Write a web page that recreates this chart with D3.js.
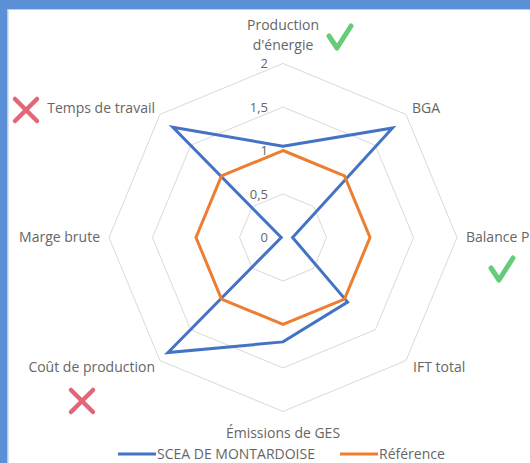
<!DOCTYPE html>
<html>
<head>
<meta charset="utf-8">
<script src="https://cdn.jsdelivr.net/npm/d3@7"></script>
<style>
  html, body { margin: 0; padding: 0; background: #fff; overflow: hidden; }
  svg { display: block; }
  text { font-family: "Open Sans", Lato, sans-serif; fill: #666666; }
</style>
</head>
<body>
<div id="chart"></div>
<script>
// ---- data ----
const axes = ["Production d'énergie", "BGA", "Balance P", "IFT total", "Émissions de GES", "Coût de production", "Marge brute", "Temps de travail"];
const seriesNames = ["SCEA DE MONTARDOISE", "Référence"];
const scea = [1.05, 1.78, 0.11, 1.05, 1.2, 1.87, 0.02, 1.79];
const reference = [1, 1, 1, 1, 1, 1, 1, 1];
const ticks = [0, 0.5, 1, 1.5, 2];
const tickLabels = ["0", "0,5", "1", "1,5", "2"];
const goodAxes = ["Production d'énergie", "Balance P"];
const badAxes = ["Temps de travail", "Coût de production"];

const W = 530, H = 463;
const cx = 283, cy = 237.5, R = 174;
const colors = ["#4472c4", "#ed7d31"];

const svg = d3.select("#chart").append("svg").attr("width", W).attr("height", H);

// frame
svg.append("rect").attr("x", 0).attr("y", 0).attr("width", W).attr("height", H).attr("fill", "#fff");
svg.append("rect").attr("x", 0).attr("y", 0).attr("width", W).attr("height", 9).attr("fill", "#5b8fd6");
svg.append("rect").attr("x", 0).attr("y", 0).attr("width", 7.5).attr("height", H).attr("fill", "#5b8fd6");
svg.append("line").attr("x1", 8).attr("x2", W).attr("y1", 9.5).attr("y2", 9.5).attr("stroke", "#b5cdef").attr("stroke-width", 1);
svg.append("line").attr("x1", 8).attr("x2", 8).attr("y1", 9).attr("y2", H).attr("stroke", "#b5cdef").attr("stroke-width", 1);

const r = d3.scaleLinear().domain([0, 2]).range([0, R]);
const angle = d3.scalePoint().domain(axes).range([0, 2 * Math.PI * (axes.length - 1) / axes.length]);

const g = svg.append("g").attr("transform", `translate(${cx},${cy})`);

const radial = d3.lineRadial().angle((d, i) => angle(axes[i])).radius(d => r(d)).curve(d3.curveLinearClosed);

// grid rings
ticks.filter(t => t > 0).forEach(t => {
  g.append("path").attr("d", radial(axes.map(() => t)))
    .attr("fill", "none").attr("stroke", "#d9d9d9").attr("stroke-width", 1);
});

// tick labels
ticks.forEach((t, i) => {
  g.append("text").attr("x", -15).attr("y", -r(t)).attr("dy", "0.35em")
    .attr("text-anchor", "end").style("font-size", "13px").text(tickLabels[i]);
});

// series
[scea, reference].forEach((vals, si) => {
  g.append("path").attr("d", radial(vals))
    .attr("fill", "none").attr("stroke", colors[si]).attr("stroke-width", 3)
    .attr("stroke-linejoin", "miter");
});

// axis labels
const labelPos = {
  "Production d'énergie": { x: 283, y: 25, anchor: "middle", lines: ["Production", "d'énergie"] },
  "BGA": { x: 412, y: 108, anchor: "start" },
  "Balance P": { x: 466, y: 237, anchor: "start" },
  "IFT total": { x: 413, y: 367, anchor: "start" },
  "Émissions de GES": { x: 283, y: 433, anchor: "middle" },
  "Coût de production": { x: 155, y: 367, anchor: "end" },
  "Marge brute": { x: 100, y: 237, anchor: "end" },
  "Temps de travail": { x: 155, y: 108, anchor: "end" }
};
axes.forEach(a => {
  const p = labelPos[a];
  const lines = p.lines || [a];
  const t = svg.append("text").attr("text-anchor", p.anchor).style("font-size", "14px");
  lines.forEach((l, i) => {
    t.append("tspan").attr("x", p.x).attr("y", p.y + i * 20).attr("dy", "0.35em").text(l);
  });
});

// icons
const iconPos = {
  "Production d'énergie": [340, 38],
  "Balance P": [502, 270],
  "Temps de travail": [26, 110],
  "Coût de production": [82, 401]
};
goodAxes.forEach(a => {
  const [x, y] = iconPos[a];
  svg.append("path").attr("d", `M${x - 11},${y - 2} L${x - 3},${y + 10} L${x + 11},${y - 12}`)
    .attr("fill", "none").attr("stroke", "#66cc7a").attr("stroke-width", 5)
    .attr("stroke-linecap", "round").attr("stroke-linejoin", "round");
});
badAxes.forEach(a => {
  const [x, y] = iconPos[a];
  svg.append("path").attr("d", `M${x - 11},${y - 11} L${x + 11},${y + 11} M${x + 11},${y - 11} L${x - 11},${y + 11}`)
    .attr("fill", "none").attr("stroke", "#e36677").attr("stroke-width", 4.5)
    .attr("stroke-linecap", "round");
});

// legend
const legendX = [118, 340];
seriesNames.forEach((n, i) => {
  const lg = svg.append("g").attr("transform", `translate(${legendX[i]},454)`);
  lg.append("line").attr("x1", 0).attr("x2", 38).attr("y1", 0).attr("y2", 0)
    .attr("stroke", colors[i]).attr("stroke-width", 3);
  lg.append("text").attr("x", 39).attr("dy", "0.35em").style("font-size", "14px").text(n);
});
</script>
</body>
</html>
